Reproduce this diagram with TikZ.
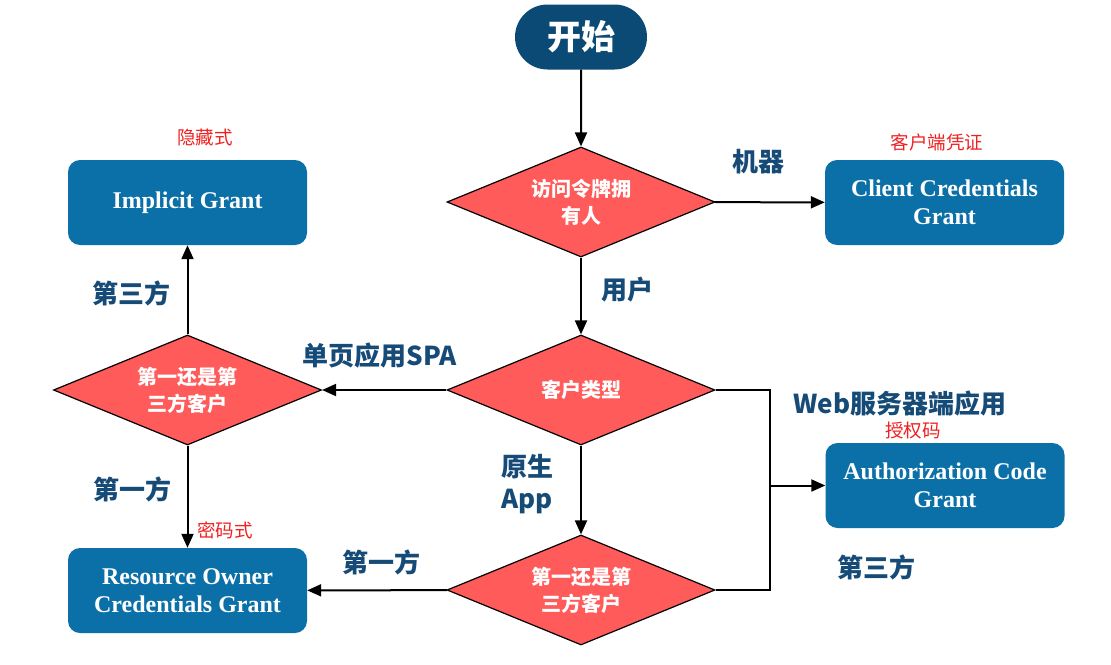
\documentclass[tikz,border=0pt]{standalone}
\usepackage{fontspec}
\setmainfont{Liberation Serif}
\newfontfamily\cjk{Noto Sans CJK SC}
\usetikzlibrary{shapes.geometric,shapes.misc,arrows.meta}
\definecolor{startblue}{HTML}{0B4A75}
\definecolor{boxblue}{HTML}{0C70A8}
\definecolor{dred}{HTML}{FF5B5B}
\definecolor{lblue}{HTML}{174B77}
\definecolor{notered}{HTML}{F02020}
\tikzset{
  startnode/.style={rounded rectangle, fill=startblue, text=white, minimum width=132pt, minimum height=65pt, inner sep=0pt, font=\cjk\bfseries\fontsize{34}{40}\selectfont},
  decision/.style={diamond, draw=black, line width=1.2pt, fill=dred, text=white, minimum width=268pt, minimum height=110pt, inner sep=0pt, aspect=2.4, align=center, font=\cjk\bfseries\fontsize{20}{27}\selectfont},
  grant/.style={rectangle, rounded corners=12pt, fill=boxblue, text=white, minimum width=239pt, minimum height=85pt, inner sep=0pt, align=center, font=\bfseries\fontsize{24}{28}\selectfont},
  lab/.style={text=lblue, align=center, inner sep=0pt, font=\cjk\bfseries\fontsize{26}{32}\selectfont},
  note/.style={text=notered, inner sep=0pt, font=\cjk\fontsize{18.5}{20}\selectfont},
  arr/.style={line width=2pt, -{Triangle[length=14pt,width=12pt]}},
  ln/.style={line width=2pt}
}
\begin{document}
\begin{tikzpicture}[x=1pt,y=-1pt]
\useasboundingbox (0,0) rectangle (1111,664);
\node[startnode] (start) at (581,37) {开始};
\node[decision] (d1) at (581,202) {访问令牌拥\\有人};
\node[decision] (d2) at (581,390) {客户类型};
\node[decision] (d3) at (187.5,390) {第一还是第\\三方客户};
\node[decision] (d4) at (581,590) {第一还是第\\三方客户};
\node[grant] (ig) at (187.5,202.5) {Implicit Grant};
\node[grant] (ccg) at (944.5,202.5) {Client Credentials\\Grant};
\node[grant] (acg) at (945,485.5) {Authorization Code\\Grant};
\node[grant] (rocg) at (187.5,590.5) {Resource Owner\\Credentials Grant};
\coordinate (j) at (770,485.5);

\draw[arr] (start) -- (d1);
\draw[arr] (d1) -- (ccg);
\draw[arr] (d1) -- (d2);
\draw[arr] (d2) -- (d3);
\draw[arr] (d3) -- (ig);
\draw[arr] (d3) -- (rocg);
\draw[arr] (d2) -- (d4);
\draw[arr] (d4) -- (rocg);
\draw[ln] (d2.east) -| (j) |- (d4.east);
\draw[arr] (j) -- (acg);

\node[lab] (l1) at (758,162) {机器};
\node[lab] (l2) at (627,290) {用户};
\node[lab] (l3) at (380,356) {单页应用SPA};
\node[lab] (l4) at (131,293) {第三方};
\node[lab] (l5) at (132,489) {第一方};
\node[lab] (l6) at (527,484) {原生\\App};
\node[lab] (l7) at (381,562) {第一方};
\node[lab] (l8) at (900,404) {Web服务器端应用};
\node[lab] (l9) at (876,567) {第三方};

\node[note] (n1) at (205,137) {隐藏式};
\node[note] (n2) at (937,142) {客户端凭证};
\node[note] (n3) at (913,431) {授权码};
\node[note] (n4) at (225,530) {密码式};
\end{tikzpicture}
\end{document}
